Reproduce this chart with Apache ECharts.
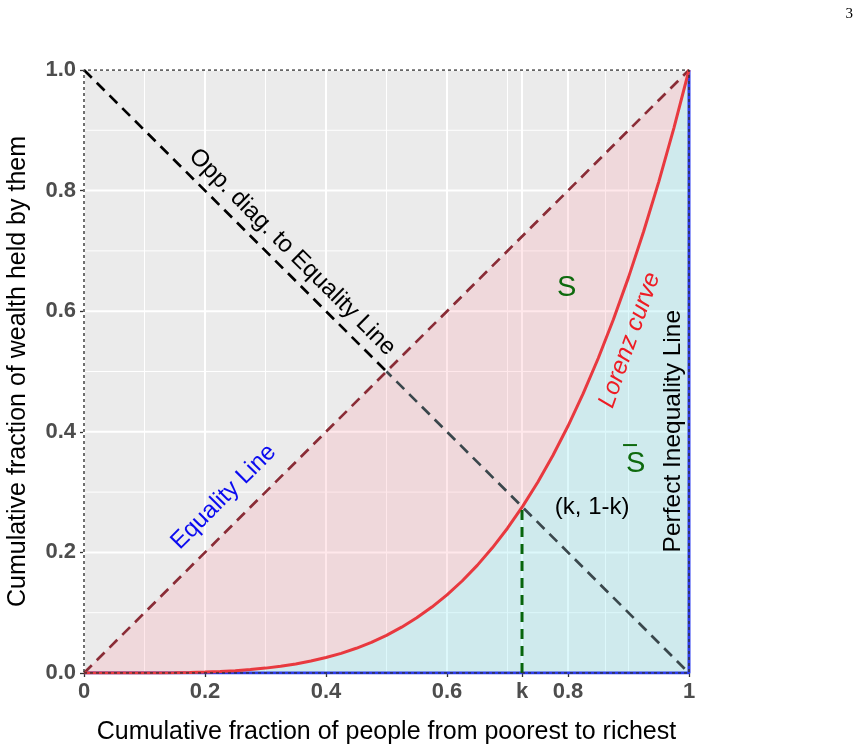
<!DOCTYPE html>
<html>
<head>
<meta charset="utf-8">
<script src="https://cdn.jsdelivr.net/npm/echarts@6/dist/echarts.min.js"></script>
<style>html,body{margin:0;padding:0;background:#fff}#c{width:861px;height:751px}</style>
</head>
<body>
<div id="c"></div>
<script>
// ---- data ----
const K = 0.724;
const xBreaks = [0, 0.2, 0.4, 0.6, K, 0.8, 1];
const xBreakLabels = ['0', '0.2', '0.4', '0.6', 'k', '0.8', '1'];
const yBreaks = [0, 0.2, 0.4, 0.6, 0.8, 1];
const yBreakLabels = ['0.0', '0.2', '0.4', '0.6', '0.8', '1.0'];
const xMinor = [0.1, 0.3, 0.5, 0.7, 0.862, 0.9];
const yMinor = [0.1, 0.3, 0.5, 0.7, 0.9];
const popShare = [0, 0.025, 0.05, 0.075, 0.1, 0.125, 0.15, 0.175, 0.2, 0.225, 0.25, 0.275, 0.3, 0.325, 0.35, 0.375, 0.4, 0.425, 0.45, 0.475, 0.5, 0.525, 0.55, 0.575, 0.6, 0.625, 0.65, 0.675, 0.7, 0.725, 0.75, 0.775, 0.8, 0.825, 0.85, 0.875, 0.9, 0.925, 0.95, 0.975, 1];
const lorenzShare = [0, 0, 0, 0, 0.0001, 0.0002, 0.0005, 0.0009, 0.0016, 0.0026, 0.0039, 0.0057, 0.0081, 0.0112, 0.015, 0.0198, 0.0256, 0.0326, 0.041, 0.0509, 0.0625, 0.076, 0.0915, 0.1093, 0.1296, 0.1526, 0.1785, 0.2076, 0.2401, 0.2763, 0.3164, 0.3607, 0.4096, 0.4632, 0.522, 0.5862, 0.6561, 0.7321, 0.8145, 0.9037, 1];
const equalityX = [0, 1];
const equalityY = [0, 1];
const oppDiagX = [0, 0.5, 1];
const oppDiagY = [1, 0.5, 0];
const perfectX = [0, 1, 1];
const perfectY = [0, 0, 1];
const kPointY = 1 - K;

// ---- annotations (text + placement) ----
const annotations = [
  {text: 'Opp. diag. to Equality Line', x: 0.344, y: 0.698, rotate: -45, color: '#000000', size: 24},
  {text: 'Equality Line', x: 0.231, y: 0.292, rotate: 45, color: '#0A0AF0', size: 24},
  {text: 'Lorenz curve', x: 0.902, y: 0.552, rotate: 70.5, color: '#EE1C24', size: 24.5, italic: true},
  {text: 'Perfect Inequality Line', x: 0.974, y: 0.401, rotate: 90, color: '#000000', size: 24.5},
  {text: 'S', x: 0.798, y: 0.638, rotate: 0, color: '#0E6A0E', size: 29},
  {text: 'S', x: 0.912, y: 0.347, rotate: 0, color: '#0E6A0E', size: 29},
  {text: '(k, 1-k)', x: 0.840, y: 0.275, rotate: 0, color: '#000000', size: 24}
];
const sBarX = [0.891, 0.914];
const sBarY = 0.378;

const pair = (xs, ys) => xs.map((x, i) => [x, ys[i]]);
const FONT = 'Liberation Sans, Arial, sans-serif';

const series = [];
// gridlines (under the fills)
function gridSeries(vals, vertical, width) {
  vals.forEach(v => {
    series.push({
      type: 'line', silent: true, animation: false, z: 1, symbol: 'none',
      data: vertical ? [[v, 0], [v, 1]] : [[0, v], [1, v]],
      lineStyle: {color: '#FFFFFF', width: width}
    });
  });
}
gridSeries(xMinor, true, 1);
gridSeries(yMinor, false, 1);
gridSeries(xBreaks, true, 2);
gridSeries(yBreaks, false, 2);

// fills as polygons through the axes' scales
const lorenzPts = pair(popShare, lorenzShare);
function polySeries(getPts, color) {
  return {
    type: 'custom', z: 2, silent: true, data: [[0, 0]],
    renderItem: function (params, api) {
      return {
        type: 'polygon',
        shape: {points: getPts().map(p => api.coord(p))},
        style: {fill: color, stroke: null}
      };
    }
  };
}
// blue: under Lorenz curve
series.push(polySeries(() => lorenzPts.concat([[perfectX[1], perfectY[1]]]), 'rgba(150,232,242,0.32)'));
// pink: between equality line and Lorenz curve
series.push(polySeries(() => lorenzPts.slice().reverse().concat(pair(equalityX, equalityY)), 'rgba(255,150,162,0.22)'));

// perfect inequality line
series.push({
  type: 'line', z: 3, symbol: 'none', silent: true,
  data: pair(perfectX, perfectY),
  lineStyle: {color: '#2B3BEE', width: 3}
});
// equality line
series.push({
  type: 'line', z: 4, symbol: 'none', silent: true,
  data: pair(equalityX, equalityY),
  lineStyle: {color: '#8A2C36', width: 2.7, type: [11, 7]}
});
// opposite diagonal (two segments)
series.push({
  type: 'line', z: 4, symbol: 'none', silent: true,
  data: pair(oppDiagX.slice(0, 2), oppDiagY.slice(0, 2)),
  lineStyle: {color: '#000000', width: 2.7, type: [11, 7]}
});
series.push({
  type: 'line', z: 4, symbol: 'none', silent: true,
  data: pair(oppDiagX.slice(1), oppDiagY.slice(1)),
  lineStyle: {color: '#3A474C', width: 2.7, type: [11, 7], dashOffset: 4}
});
// Lorenz curve
series.push({
  type: 'line', z: 5, symbol: 'none', silent: true,
  data: lorenzPts,
  lineStyle: {color: '#E8393F', width: 3}
});
// green dashed vertical at k
series.push({
  type: 'line', z: 5, symbol: 'none', silent: true,
  data: [[K, 0], [K, kPointY]],
  lineStyle: {color: '#07650C', width: 3, type: [10, 7]}
});
// bar over second S
series.push({
  type: 'line', z: 6, symbol: 'none', silent: true,
  data: [[sBarX[0], sBarY], [sBarX[1], sBarY]],
  lineStyle: {color: '#0E6A0E', width: 2}
});
// dotted panel border on top
const bx0 = xBreaks[0], bx1 = xBreaks[xBreaks.length - 1];
const by0 = yBreaks[0], by1 = yBreaks[yBreaks.length - 1];
series.push({
  type: 'line', z: 8, symbol: 'none', silent: true,
  data: [[bx0, by0], [bx1, by0], [bx1, by1], [bx0, by1], [bx0, by0]],
  lineStyle: {color: '#333333', width: 1.4, type: [3, 3]}
});
// text annotations
series.push({
  type: 'scatter', z: 7, symbolSize: 0, silent: true,
  itemStyle: {opacity: 1},
  data: annotations.map(a => ({
    value: [a.x, a.y],
    label: {
      show: true, position: 'inside', formatter: a.text, rotate: a.rotate,
      color: a.color, opacity: 1, textBorderWidth: 0, fontSize: a.size, fontFamily: FONT,
      fontStyle: a.italic ? 'italic' : 'normal', align: 'center', verticalAlign: 'middle'
    }
  }))
});

const labelByValue = (breaks, labels) => v => {
  let best = 0;
  breaks.forEach((b, i) => { if (Math.abs(b - v) < Math.abs(breaks[best] - v)) best = i; });
  return labels[best];
};

const option = {
  animation: false,
  grid: {left: 84, right: 172, top: 70, bottom: 78, show: true, backgroundColor: '#EBEBEB', borderWidth: 0,
    containLabel: false, outerBoundsMode: 'none'},
  graphic: [{
    type: 'text', right: 8, top: 7,
    style: {text: '3', font: '15px "Liberation Serif", "DejaVu Serif", serif', fill: '#000'}
  }],
  xAxis: {
    type: 'value', min: 0, max: 1,
    name: 'Cumulative fraction of people from poorest to richest',
    nameLocation: 'middle', nameGap: 47,
    nameTextStyle: {color: '#000', fontSize: 25, fontFamily: FONT},
    splitLine: {show: false},
    axisLine: {show: false},
    axisTick: {show: true, length: 4, customValues: xBreaks, lineStyle: {color: '#333', width: 1.3}},
    axisLabel: {customValues: xBreaks, formatter: labelByValue(xBreaks, xBreakLabels), margin: 8,
      color: '#4D4D4D', fontSize: 22, fontWeight: 'bold', fontFamily: FONT, showMinLabel: true, showMaxLabel: true}
  },
  yAxis: {
    type: 'value', min: 0, max: 1,
    name: 'Cumulative fraction of wealth held by them',
    nameLocation: 'middle', nameGap: 53,
    nameTextStyle: {color: '#000', fontSize: 25, fontFamily: FONT},
    splitLine: {show: false},
    axisLine: {show: false},
    axisTick: {show: true, length: 4, customValues: yBreaks, lineStyle: {color: '#333', width: 1.3}},
    axisLabel: {customValues: yBreaks, formatter: labelByValue(yBreaks, yBreakLabels), margin: 8,
      color: '#4D4D4D', fontSize: 22, fontWeight: 'bold', fontFamily: FONT, showMinLabel: true, showMaxLabel: true}
  },
  series: series
};
const chart = echarts.init(document.getElementById('c'), null, {renderer: 'canvas'});
chart.setOption(option);
</script>
</body>
</html>
